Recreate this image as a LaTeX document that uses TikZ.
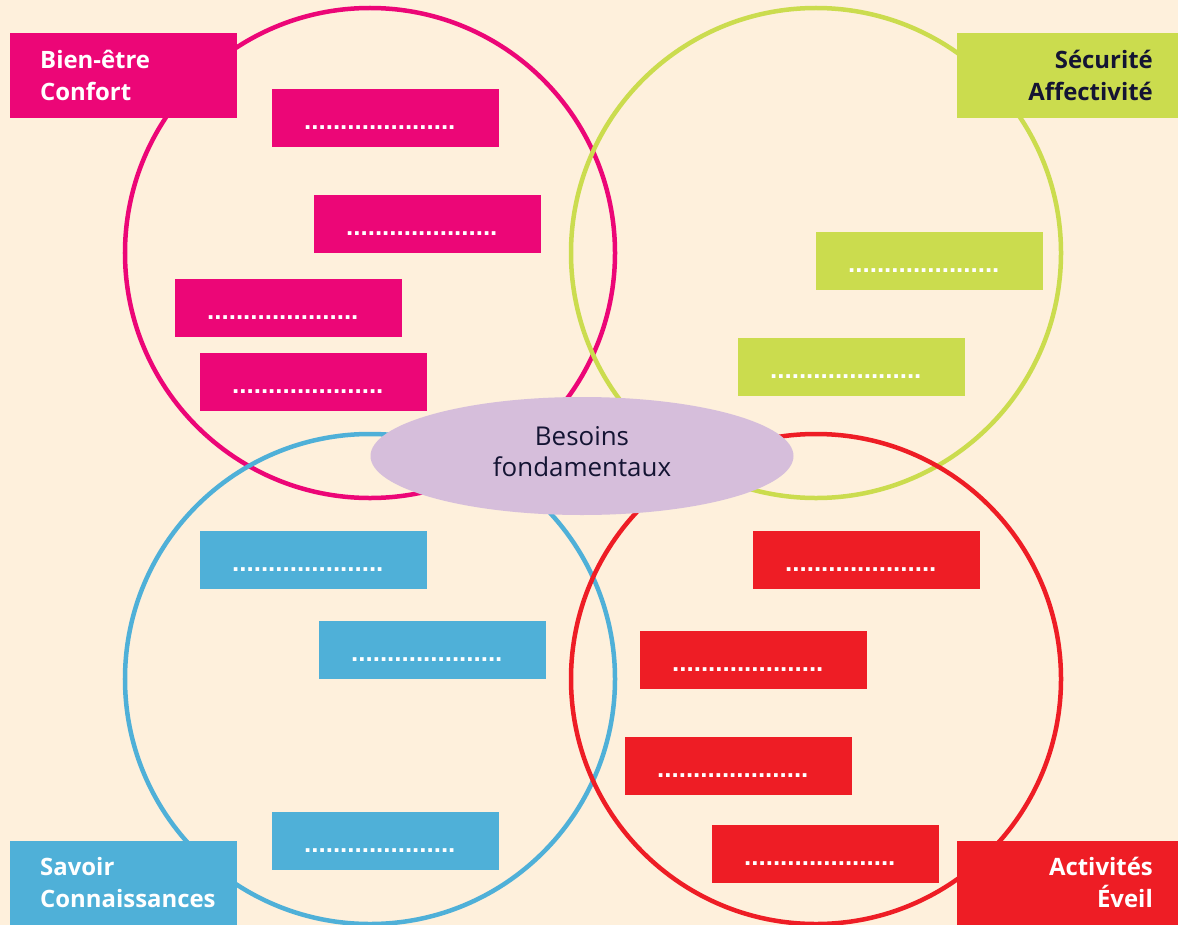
\documentclass[tikz,border=0pt]{standalone}
\usepackage{fontspec}
\setmainfont{Open Sans}
\newfontfamily\dotfont{Liberation Sans}
\usetikzlibrary{shapes.geometric}
\definecolor{bgc}{HTML}{FEF0DC}
\definecolor{pinkc}{HTML}{EC0677}
\definecolor{greenc}{HTML}{CBDC4E}
\definecolor{bluec}{HTML}{4FB0D8}
\definecolor{redc}{HTML}{EE1D25}
\definecolor{lilac}{HTML}{D6BEDB}
\definecolor{navy}{HTML}{141433}
\tikzset{
  ring/.style={line width=4.5bp, draw=#1},
  lab/.style={fill=#1, minimum width=227bp, minimum height=85bp, inner sep=0pt, anchor=north west},
  labtext/.style={font=\fontsize{24}{32}\selectfont\bfseries, text=white, inner sep=0pt},
  slot/.style={fill=#1, minimum width=227bp, minimum height=58bp, inner sep=0pt, anchor=north west},
  dots/.style={font=\dotfont\fontsize{26}{26}\selectfont\bfseries, text=white, inner sep=0pt, anchor=base west},
}
\newcommand{\slotbox}[4]{%
  \node[slot=#3] (#4) at (#1,#2) {};
  \node[dots] (#4t) at (#1+32,#2+40) {.....................};
}
\begin{document}
\begin{tikzpicture}[x=1bp,y=-1bp]
\fill[bgc] (0,0) rectangle (1178,925);
\useasboundingbox (0,0) rectangle (1178,925);
% circles
\node[circle, ring=pinkc, minimum size=490bp, inner sep=0pt] (cp) at (370,253) {};
\node[circle, ring=greenc, minimum size=490bp, inner sep=0pt] (cg) at (816,253) {};
\node[circle, ring=bluec, minimum size=490bp, inner sep=0pt] (cb) at (370,679) {};
\node[circle, ring=redc, minimum size=490bp, inner sep=0pt] (cr) at (816,679) {};
% centre
\node[ellipse, fill=lilac, minimum width=423bp, minimum height=118bp, inner sep=0pt,
  align=center, text=navy, font=\fontsize{26}{31}\selectfont] (centre) at (582,456) {};
\node[align=center, text=navy, font=\fontsize{26}{31}\selectfont, inner sep=0pt] (centret) at (582,452) {Besoins\\fondamentaux};
% label boxes
\node[lab=pinkc] (lp) at (10,33) {};
\node[labtext, align=left, anchor=north west] (lpt) at (40,50) {Bien-être\\Confort};
\node[lab=greenc] (lg) at (957,33) {};
\node[labtext, align=right, anchor=north east, text=navy] (lgt) at (1153,50) {Sécurité\\Affectivité};
\node[lab=bluec] (lb) at (10,841) {};
\node[labtext, align=left, anchor=north west] (lbt) at (40,857) {Savoir\\Connaissances};
\node[lab=redc] (lr) at (957,841) {};
\node[labtext, align=right, anchor=north east] (lrt) at (1153,857) {Activités\\Éveil};
% slots
\slotbox{272}{89}{pinkc}{p1}
\slotbox{314}{195}{pinkc}{p2}
\slotbox{175}{279}{pinkc}{p3}
\slotbox{200}{353}{pinkc}{p4}
\slotbox{816}{232}{greenc}{g1}
\slotbox{738}{338}{greenc}{g2}
\slotbox{200}{531}{bluec}{b1}
\slotbox{319}{621}{bluec}{b2}
\slotbox{272}{812}{bluec}{b3}
\slotbox{753}{531}{redc}{r1}
\slotbox{640}{631}{redc}{r2}
\slotbox{625}{737}{redc}{r3}
\slotbox{712}{825}{redc}{r4}
\end{tikzpicture}
\end{document}
